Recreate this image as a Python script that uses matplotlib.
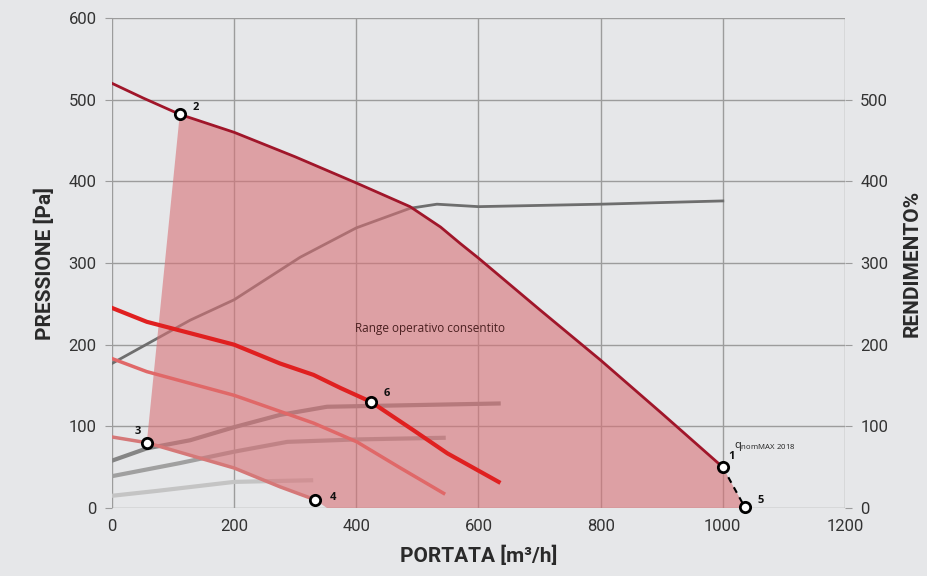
import matplotlib
matplotlib.use("Agg")
import matplotlib.pyplot as plt
import numpy as np

plt.rcParams['font.family'] = ['Roboto', 'DejaVu Sans']

# curve data (portata m3/h , pressione Pa / rendimento)
max_x = [0, 51, 111, 200, 300, 400, 488, 538, 570, 600, 700, 800, 900, 1000]
max_y = [520, 502, 482, 460, 430, 398, 369, 344, 324, 306, 243, 181, 116, 50]

red_x = [0, 57, 200, 275, 330, 374, 424, 494, 549, 633]
red_y = [245, 228, 200, 177, 163, 147, 130, 95, 67, 32]

pink_x = [0, 57, 200, 330, 401, 470, 543]
pink_y = [183, 167, 138, 104, 81, 50, 18]

low_x = [0, 57, 200, 275, 333]
low_y = [87, 80, 49, 26, 10]

eff1_x = [0, 128, 200, 308, 400, 488, 532, 600, 800, 1000]
eff1_y = [177, 230, 255, 307, 343, 367, 372, 369, 372, 376]

eff2_x = [0, 57, 128, 200, 275, 352, 424, 633]
eff2_y = [58, 73, 83, 99, 114, 124, 125, 128]

eff3_x = [0, 111, 200, 287, 401, 543]
eff3_y = [39, 55, 69, 81, 84, 86]

eff4_x = [0, 74, 200, 326]
eff4_y = [15, 21, 32, 34]

# operating points
pts_lab = ['1', '2', '3', '4', '5', '6']
pts_x = [1000, 111, 57, 333, 1036, 424]
pts_y = [50, 482, 80, 10, 1, 130]

bg = '#e6e7e9'
fig = plt.figure(figsize=(9.27, 5.76), dpi=100, facecolor=bg)
ax = fig.add_axes([0.1208, 0.118, 0.7907, 0.8508], facecolor=bg)

ax.set_xlim(0, 1200)
ax.set_ylim(0, 600)
for s in ax.spines.values():
    s.set_visible(False)
ax.set_xticks(range(0, 1201, 200))
ax.set_yticks(range(0, 601, 100))
ax.grid(True, color='#9c9c9c', lw=1)
ax.set_axisbelow(True)
ax.tick_params(axis='y', length=5, color='#9c9c9c', labelsize=12, labelcolor='#333333', pad=6)
ax.tick_params(axis='x', length=0, labelsize=12, labelcolor='#333333', pad=8)

# efficiency curves (under the shaded area)
ax.plot(eff1_x, eff1_y, color='#6e6e6e', lw=2, zorder=2)
ax.plot(eff2_x, eff2_y, color='#858585', lw=3, zorder=2)
ax.plot(eff3_x, eff3_y, color='#a0a0a0', lw=3, zorder=2)
ax.plot(eff4_x, eff4_y, color='#c4c4c4', lw=3, zorder=2)

# shaded operating range
i2 = max_x.index(pts_x[1])
i1 = max_x.index(pts_x[0])
poly_x = [pts_x[2]] + max_x[i2:i1 + 1] + [pts_x[4], 1040, 352] + low_x[::-1][:-1]
poly_y = [pts_y[2]] + max_y[i2:i1 + 1] + [pts_y[4], 0, 0] + low_y[::-1][:-1]
ax.fill(poly_x, poly_y, color=(215/255, 113/255, 118/255), alpha=0.6, lw=0, zorder=3)

# pressure curves
ax.plot(low_x, low_y, color='#d57878', lw=2.5, zorder=4)
ax.plot(pink_x, pink_y, color='#e06868', lw=2.5, zorder=4)
ax.plot(red_x, red_y, color='#e02020', lw=3, zorder=4)
ax.plot(max_x, max_y, color='#a0162a', lw=2, zorder=4)
ax.plot([pts_x[0], pts_x[4]], [pts_y[0], pts_y[4]], color='black', lw=1.5, ls=(0, (3, 2.5)), zorder=5)

ax.scatter(pts_x, pts_y, s=55, facecolor='white', edgecolor='black', lw=2, zorder=6, clip_on=False)
offs = {'1': (4, 6), '2': (9, 3), '3': (-9, 6), '4': (10, 0), '5': (9, 3), '6': (9, 4)}
for lab, x, y in zip(pts_lab, pts_x, pts_y):
    dx, dy = offs[lab]
    ax.annotate(lab, (x, y), xytext=(dx, dy), textcoords='offset points',
                fontsize=8, fontweight='bold', color='#111111', zorder=7,
                family=['Open Sans', 'DejaVu Sans'])
ax.annotate(r'q$_{\mathregular{nomMAX\ 2018}}$', (1000, 50), xytext=(8, 14), textcoords='offset points',
            fontsize=8, color='#222222', family=['Open Sans', 'DejaVu Sans'], zorder=7)

ax.text(520, 220, 'Range operativo consentito', fontsize=8.5, color='#4a2020',
        ha='center', va='center', family=['Open Sans', 'DejaVu Sans'], zorder=7)

ax.set_xlabel('PORTATA [m³/h]', fontsize=15, fontweight='bold', color='#2a2a2a', labelpad=8)
ax.set_ylabel('PRESSIONE [Pa]', fontsize=15, fontweight='bold', color='#2a2a2a', labelpad=10)

ax2 = ax.twinx()
ax2.set_ylim(0, 600)
ax2.set_yticks(range(0, 501, 100))
for s in ax2.spines.values():
    s.set_visible(False)
ax2.tick_params(axis='y', length=5, color='#9c9c9c', labelsize=12, labelcolor='#333333', pad=6)
ax2.set_ylabel('RENDIMENTO%', fontsize=15, fontweight='bold', color='#2a2a2a', labelpad=10)

fig.savefig('out.png', dpi=100, facecolor=bg)
